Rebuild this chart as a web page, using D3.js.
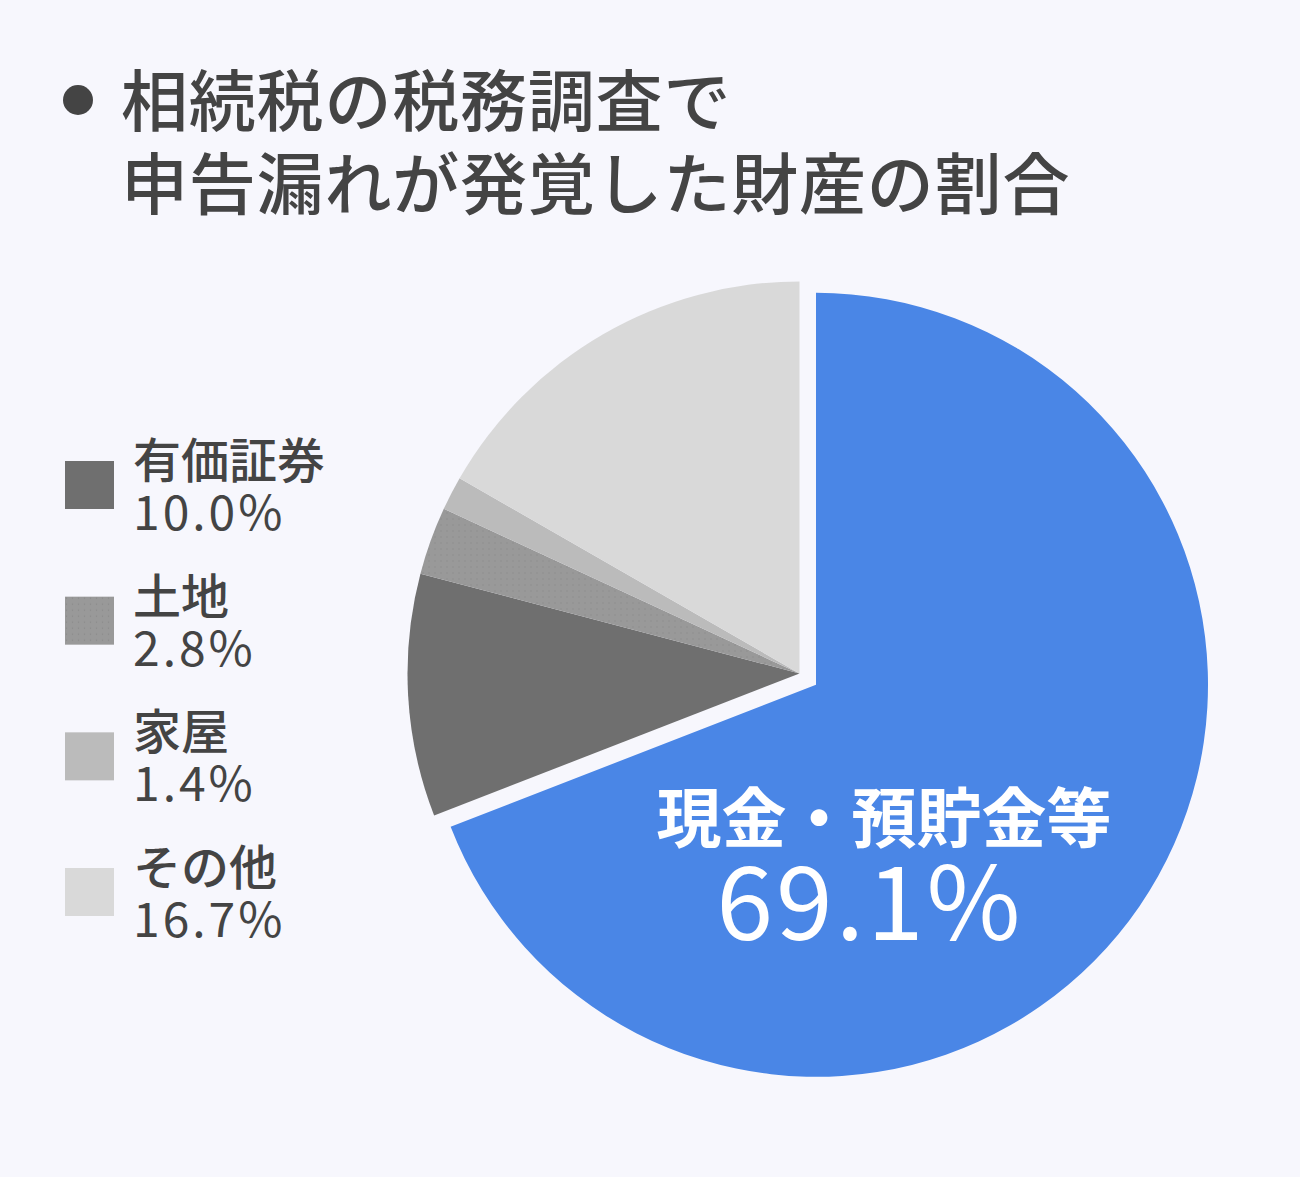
<!DOCTYPE html>
<html><head><meta charset="utf-8">
<script src="https://cdn.jsdelivr.net/npm/d3@7"></script>
<style>
html,body{margin:0;padding:0;background:#f7f7fd;}
svg{display:block;}
text{font-family:"Noto Sans CJK JP","Noto Sans",sans-serif;}
</style></head>
<body>
<script>
const titleLines = ["相続税の税務調査で", "申告漏れが発覚した財産の割合"];
const categories = ["現金・預貯金等", "有価証券", "土地", "家屋", "その他"];
const values = [69.1, 10.0, 2.8, 1.4, 16.7];
const colors = ["#4a86e6", "#6f6f6f", "#999999", "#bbbbbb", "#d9d9d9"];
const legendItems = ["有価証券", "土地", "家屋", "その他"];

const W = 1300, H = 1177;
const svg = d3.select("body").append("svg").attr("width", W).attr("height", H);
svg.append("rect").attr("width", W).attr("height", H).attr("fill", "#f7f7fd");

// dotted pattern for 土地
const defs = svg.append("defs");
const pat = defs.append("pattern").attr("id", "dots").attr("width", 6).attr("height", 6)
  .attr("patternUnits", "userSpaceOnUse");
pat.append("rect").attr("width", 6).attr("height", 6).attr("fill", "#999999");
pat.append("circle").attr("cx", 1.5).attr("cy", 1.5).attr("r", 0.7).attr("fill", "#8a8a8a");
const fillFor = i => i === 2 ? "url(#dots)" : colors[i];

// Title
svg.append("circle").attr("cx", 78).attr("cy", 100).attr("r", 15).attr("fill", "#444444");
svg.selectAll("text.title").data(titleLines).join("text").attr("class", "title")
  .attr("x", 121).attr("y", (d, i) => 126 + i * 83)
  .attr("font-size", 67).attr("letter-spacing", 0.8).attr("font-weight", 500).attr("fill", "#444444").text(d => d);

// Pie
const cx = 799.5, cy = 673.5, R = 392, explode = 20;
const data = categories.map((c, i) => ({ name: c, value: values[i], i }));
const pie = d3.pie().value(d => d.value).sort(null);
const arc = d3.arc().innerRadius(0).outerRadius(R);
const arcs = pie(data);
const g = svg.append("g").attr("transform", `translate(${cx},${cy})`);
g.selectAll("path").data(arcs).join("path")
  .attr("d", arc)
  .attr("fill", d => fillFor(d.data.i))
  .attr("transform", d => {
    if (d.data.i !== 0) return null;
    const m = (d.startAngle + d.endAngle) / 2;
    return `translate(${Math.sin(m) * explode},${-Math.cos(m) * explode})`;
  });

// Label inside main slice
const mainArc = arcs[0];
svg.append("text").attr("x", 884).attr("y", 842).attr("text-anchor", "middle")
  .attr("font-size", 65).attr("font-weight", 700).attr("fill", "#ffffff").text(mainArc.data.name);
svg.append("text").attr("x", 870).attr("y", 940).attr("text-anchor", "middle")
  .attr("font-size", 102).attr("font-weight", 400).attr("letter-spacing", 3).attr("fill", "#ffffff")
  .text(mainArc.data.value.toFixed(1) + "%");

// Legend
const legY = d3.scalePoint().domain(legendItems).range([461, 868]);
const leg = svg.selectAll("g.leg").data(legendItems).join("g").attr("class", "leg")
  .attr("transform", d => `translate(65,${legY(d)})`);
leg.append("rect").attr("width", 49).attr("height", 48)
  .attr("fill", d => fillFor(categories.indexOf(d)));
leg.append("text").attr("x", 68).attr("y", 17).attr("font-size", 48).attr("font-weight", 500)
  .attr("fill", "#444444").text(d => d);
leg.append("text").attr("x", 68).attr("y", 69).attr("font-size", 48).attr("font-weight", 400)
  .attr("letter-spacing", 3).attr("fill", "#444444")
  .text(d => values[categories.indexOf(d)].toFixed(1) + "%");
</script>
</body></html>
